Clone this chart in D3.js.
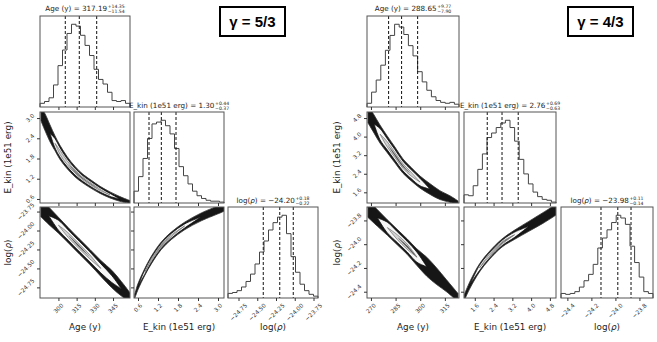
<!DOCTYPE html>
<html>
<head>
<meta charset="utf-8">
<script src="https://cdn.jsdelivr.net/npm/d3@7"></script>
<style>
body { margin:0; background:#fff; }
svg { display:block; font-family:"DejaVu Sans", sans-serif; }
.frame { fill:none; stroke:#555; stroke-width:1; }
.tick line { stroke:#333; }
.ticklabel { font-size:5.8px; fill:#333; }
.axlabel { font-size:8.8px; fill:#222; }
.title { font-size:7.2px; fill:#222; }
.sup { font-size:4.6px; fill:#222; }
.gamma { font-family:"Liberation Sans", Arial, sans-serif; font-weight:bold; font-size:15px; }
</style>
</head>
<body>
<div class="canvas"></div>
<script>
var pageWidth = 657, pageHeight = 342;
var labels = ["Age (y)", "E_kin (1e51 erg)", "log(ρ)"];

// ---------- gamma = 5/3 (left) ----------
var gammaA = "γ = 5/3";
var ageDomA = [284.8, 359], ekinDomA = [0.48, 3.18], rhoDomA = [-24.89, -23.69];
var ageTicksA = [300, 315, 330, 345];
var ekinTicksA = [0.6, 1.2, 1.8, 2.4, 3.0];
var rhoTicksA = [-24.75, -24.5, -24.25, -24.0, -23.75];
var ageStatsA = [317.19, 14.35, 11.54];   // median, +err, -err
var ekinStatsA = [1.30, 0.44, 0.37];
var rhoStatsA = [-24.20, 0.18, 0.22];
var ageHistA = [0.04,0.06,0.10,0.24,0.45,0.62,0.80,0.90,0.88,0.78,0.67,0.56,0.41,0.30,0.25,0.16,0.07,0.06,0.07,0.04];
var ekinHistA = [0.13,0.29,0.49,0.71,0.87,0.89,0.91,0.85,0.76,0.60,0.40,0.30,0.21,0.13,0.08,0.05,0.03,0.02,0.02,0.01];
var rhoHistA = [0.05,0.06,0.08,0.12,0.18,0.26,0.37,0.50,0.62,0.74,0.82,0.88,0.90,0.70,0.45,0.28,0.15,0.08,0.04,0.02];

// 2d panels: centre line of the sample cloud + half widths (band / contour levels)
var ageEkinA_x = [285.6, 288.9, 293.0, 297.2, 301.3, 307.1, 313.7, 320.3, 327.7, 334.3, 342.5, 350.7, 359.0];
var ageEkinA_y = [3.12, 2.88, 2.55, 2.25, 1.98, 1.68, 1.41, 1.20, 1.02, 0.87, 0.72, 0.60, 0.51];
var ageEkinA_band = [0.2, 0.25, 0.25, 0.22, 0.21, 0.18, 0.155, 0.13, 0.12, 0.105, 0.09, 0.07, 0.04];
var ageEkinA_c1 = [null, null, 0, 0.14, 0.14, 0.12, 0.1, 0.085, 0.078, 0.065, 0.045, 0, null];
var ageEkinA_c2 = [null, null, null, 0, 0.06, 0.055, 0.047, 0.04, 0.035, 0.02, 0, null, null];
var ageEkinA_c3 = [null, null, null, null, null, 0, 0.02, 0.018, 0.012, 0, null, null, null];

var ageRhoA_x = [285.5, 292, 300, 308, 317.2, 326, 335, 344, 352, 359];
var ageRhoA_y = [-23.70, -23.805, -23.93, -24.06, -24.21, -24.35, -24.50, -24.64, -24.77, -24.88];
var ageRhoA_band = [0.12, 0.115, 0.105, 0.1, 0.1, 0.1, 0.105, 0.115, 0.095, 0.06];
var ageRhoA_c1 = [null, 0, 0.065, 0.068, 0.068, 0.066, 0.06, 0.045, 0, null];
var ageRhoA_c2 = [null, null, 0, 0.03, 0.032, 0.026, 0, null, null, null];
var ageRhoA_c3 = [null, null, null, 0, 0.012, 0, null, null, null, null];

var ekinRhoA_x = [0.50, 0.6, 0.8, 1.0, 1.3, 1.6, 2.0, 2.5, 3.1, 3.2];
var ekinRhoA_y = [-24.87, -24.74, -24.55, -24.39, -24.20, -24.07, -23.94, -23.82, -23.71, -23.69];
var ekinRhoA_band = [0.026, 0.04, 0.045, 0.05, 0.05, 0.05, 0.05, 0.052, 0.052, 0.052];
var ekinRhoA_c1 = [null, 0, 0.03, 0.033, 0.033, 0.032, 0.027, 0, null, null];
var ekinRhoA_c2 = [null, null, 0, 0.014, 0.015, 0.011, 0, null, null, null];
var ekinRhoA_c3 = [null, null, null, 0, 0.005, 0, null, null, null, null];

// ---------- gamma = 4/3 (right) ----------
var gammaB = "γ = 4/3";
var ageDomB = [267.6, 323.6], ekinDomB = [1.14, 5.06], rhoDomB = [-24.453, -23.687];
var ageTicksB = [270, 285, 300, 315];
var ekinTicksB = [1.6, 2.4, 3.2, 4.0, 4.8];
var rhoTicksB = [-24.4, -24.2, -24.0, -23.8];
var ageStatsB = [288.65, 9.77, 7.90];
var ekinStatsB = [2.76, 0.69, 0.63];
var rhoStatsB = [-23.98, 0.11, 0.14];
var ageHistB = [0.04,0.16,0.29,0.45,0.61,0.77,0.89,0.86,0.78,0.66,0.55,0.38,0.27,0.18,0.11,0.07,0.05,0.04,0.05,0.03];
var ekinHistB = [0.09,0.08,0.19,0.37,0.54,0.72,0.77,0.83,0.88,0.91,0.83,0.68,0.48,0.32,0.21,0.12,0.07,0.04,0.03,0.01];
var rhoHistB = [0.05,0.04,0.05,0.07,0.12,0.19,0.26,0.37,0.55,0.66,0.75,0.83,0.91,0.88,0.81,0.57,0.39,0.23,0.07,0.05];

var ageEkinB_x = [268.2, 271.9, 275.5, 279.8, 284.6, 289.5, 294.4, 299.9, 306.0, 312.0, 318.1, 323.0];
var ageEkinB_y = [4.97, 4.54, 4.11, 3.68, 3.21, 2.73, 2.39, 2.04, 1.74, 1.48, 1.31, 1.14];
var ageEkinB_band = [0.38, 0.39, 0.39, 0.36, 0.34, 0.31, 0.29, 0.26, 0.23, 0.19, 0.14, 0.09];
var ageEkinB_c1 = [null, 0, 0.24, 0.24, 0.23, 0.21, 0.19, 0.16, 0, null, null, null];
var ageEkinB_c2 = [null, null, 0, 0.11, 0.11, 0.1, 0.08, 0, null, null, null, null];
var ageEkinB_c3 = [null, null, null, 0, 0.045, 0.04, 0, null, null, null, null, null];

var ageRhoB_x = [268.2, 274, 280, 286, 292, 298, 304, 310, 316, 323];
var ageRhoB_y = [-23.70, -23.78, -23.86, -23.94, -24.02, -24.11, -24.19, -24.27, -24.35, -24.45];
var ageRhoB_band = [0.075, 0.07, 0.065, 0.065, 0.065, 0.07, 0.08, 0.07, 0.05, 0.035];
var ageRhoB_c1 = [null, 0, 0.045, 0.045, 0.045, 0.042, 0, null, null, null];
var ageRhoB_c2 = [null, null, 0, 0.02, 0.022, 0, null, null, null, null];
var ageRhoB_c3 = [null, null, null, 0, 0.008, 0, null, null, null, null];

var ekinRhoB_x = [1.15, 1.4, 1.8, 2.2, 2.76, 3.3, 3.9, 4.5, 5.06];
var ekinRhoB_y = [-24.45, -24.34, -24.20, -24.10, -23.99, -23.92, -23.85, -23.78, -23.71];
var ekinRhoB_band = [0.024, 0.029, 0.034, 0.034, 0.034, 0.039, 0.042, 0.045, 0.045];
var ekinRhoB_c1 = [null, 0, 0.022, 0.023, 0.023, 0.022, 0, null, null];
var ekinRhoB_c2 = [null, null, 0, 0.01, 0.011, 0, null, null, null];
var ekinRhoB_c3 = [null, null, null, 0, 0.004, 0, null, null, null];

var figA = {
  gamma: gammaA, box: [220, 7, 65, 29], ylabX: 11,
  cols: [40, 134, 228], rows: [16, 112, 207], w: 90, h: 91,
  doms: [ageDomA, ekinDomA, rhoDomA],
  ticks: [ageTicksA, ekinTicksA, rhoTicksA],
  fmts: [d3.format("d"), d3.format(".1f"), d3.format(".2f")],
  hists: [ageHistA, ekinHistA, rhoHistA],
  stats: [ageStatsA, ekinStatsA, rhoStatsA],
  pairs: [
    {r:1, c:0, x:ageEkinA_x, y:ageEkinA_y, levels:[ageEkinA_band, ageEkinA_c1, ageEkinA_c2, ageEkinA_c3]},
    {r:2, c:0, x:ageRhoA_x, y:ageRhoA_y, levels:[ageRhoA_band, ageRhoA_c1, ageRhoA_c2, ageRhoA_c3]},
    {r:2, c:1, x:ekinRhoA_x, y:ekinRhoA_y, levels:[ekinRhoA_band, ekinRhoA_c1, ekinRhoA_c2, ekinRhoA_c3]}
  ]
};
var figB = {
  gamma: gammaB, box: [568, 7, 65, 29], ylabX: 340,
  cols: [367, 464, 561], rows: [16, 112, 207], w: 92, h: 91,
  doms: [ageDomB, ekinDomB, rhoDomB],
  ticks: [ageTicksB, ekinTicksB, rhoTicksB],
  fmts: [d3.format("d"), d3.format(".1f"), d3.format(".1f")],
  hists: [ageHistB, ekinHistB, rhoHistB],
  stats: [ageStatsB, ekinStatsB, rhoStatsB],
  pairs: [
    {r:1, c:0, x:ageEkinB_x, y:ageEkinB_y, levels:[ageEkinB_band, ageEkinB_c1, ageEkinB_c2, ageEkinB_c3]},
    {r:2, c:0, x:ageRhoB_x, y:ageRhoB_y, levels:[ageRhoB_band, ageRhoB_c1, ageRhoB_c2, ageRhoB_c3]},
    {r:2, c:1, x:ekinRhoB_x, y:ekinRhoB_y, levels:[ekinRhoB_band, ekinRhoB_c1, ekinRhoB_c2, ekinRhoB_c3]}
  ]
};

var levelFill = ['#161616', '#f7f7f7', '#d2d2d2', '#555'];
var levelStroke = ['#333', '#111', '#444', 'none'];
var levelWidth = [0.8, 0.8, 0.5, 0];

var svg = d3.select('.canvas').append('svg')
    .attr('width', pageWidth)
    .attr('height', pageHeight);
svg.append('rect').attr('width', pageWidth).attr('height', pageHeight).attr('fill', '#fff');

var clipId = 0;

// text with an italic rho
function addName(t, name){
  var parts = name.split('ρ');
  parts.forEach(function(p, k){
    if(k > 0) t.append('tspan').style('font-style', 'italic').text('ρ');
    if(p) t.append('tspan').text(p);
  });
}

function rotLabel(g, x, y, str, side){
  var t = g.append('text').attr('class', 'ticklabel')
      .attr('text-anchor', 'middle').attr('dominant-baseline', 'central')
      .text(str);
  var b = (t.node().getComputedTextLength() + 5.8) * 0.7071;
  if(side == 'bottom') t.attr('transform', 'translate(' + x + ',' + (y + 4.5 + b/2) + ') rotate(-45)');
  else t.attr('transform', 'translate(' + (x - 4.5 - b/2) + ',' + y + ') rotate(-45)');
}

function bottomTicks(g, f, i, withLabels){
  var x = d3.scaleLinear().domain(f.doms[i]).range([0, f.w]);
  var ax = g.append('g').attr('transform', 'translate(0,' + f.h + ')')
      .call(d3.axisBottom(x).tickValues(f.ticks[i]).tickSize(3).tickFormat(''));
  ax.select('.domain').remove();
  if(withLabels) f.ticks[i].forEach(function(v){ rotLabel(g, x(v), f.h, f.fmts[i](v), 'bottom'); });
}

function leftTicks(g, f, i, withLabels){
  var y = d3.scaleLinear().domain(f.doms[i]).range([f.h, 0]);
  var ax = g.append('g')
      .call(d3.axisLeft(y).tickValues(f.ticks[i]).tickSize(3).tickFormat(''));
  ax.select('.domain').remove();
  if(withLabels) f.ticks[i].forEach(function(v){ rotLabel(g, 0, y(v), f.fmts[i](v), 'left'); });
}

function drawTitle(g, cx, base, name, s){
  var fmt = d3.format('.2f');
  var t = g.append('text').attr('class', 'title').attr('y', base);
  addName(t, name);
  t.append('tspan').text(' = ' + fmt(s[0]));
  var sup = g.append('text').attr('class', 'sup').attr('y', base - 3.2).text('+' + fmt(s[1]));
  var sub = g.append('text').attr('class', 'sup').attr('y', base + 1.6).text('−' + fmt(s[2]));
  var wm = t.node().getComputedTextLength();
  var ws = Math.max(sup.node().getComputedTextLength(), sub.node().getComputedTextLength());
  var x0 = cx - (wm + ws + 0.6) / 2;
  t.attr('x', x0);
  sup.attr('x', x0 + wm + 0.6);
  sub.attr('x', x0 + wm + 0.6);
}

function drawHist(f, i){
  var g = svg.append('g').attr('transform', 'translate(' + f.cols[i] + ',' + f.rows[i] + ')');
  var dom = f.doms[i], vals = f.hists[i];
  var x = d3.scaleLinear().domain(dom).range([0, f.w]);
  var y = d3.scaleLinear().domain([0, d3.max(vals) * 1.1]).range([f.h, 0]);
  var step = (dom[1] - dom[0]) / vals.length;
  var pts = [[dom[0], 0]];
  vals.forEach(function(v, k){
    pts.push([dom[0] + k * step, v]);
    pts.push([dom[0] + (k + 1) * step, v]);
  });
  pts.push([dom[1], 0]);
  g.append('path')
      .attr('d', d3.line().x(function(d){ return x(d[0]); }).y(function(d){ return y(d[1]); })(pts))
      .attr('fill', 'none').attr('stroke', '#444').attr('stroke-width', 1);
  var s = f.stats[i];
  [s[0] - s[2], s[0], s[0] + s[1]].forEach(function(q){
    g.append('line')
        .attr('x1', x(q)).attr('x2', x(q)).attr('y1', 0).attr('y2', f.h)
        .attr('stroke', '#111').attr('stroke-width', 1).attr('stroke-dasharray', '3,2');
  });
  g.append('rect').attr('class', 'frame').attr('width', f.w).attr('height', f.h);
  bottomTicks(g, f, i, i == 2);
  drawTitle(g, f.w / 2, i == 0 ? -5 : -4, labels[i], s);
}

function drawPair(f, p){
  var g = svg.append('g').attr('transform', 'translate(' + f.cols[p.c] + ',' + f.rows[p.r] + ')');
  var x = d3.scaleLinear().domain(f.doms[p.c]).range([0, f.w]);
  var y = d3.scaleLinear().domain(f.doms[p.r]).range([f.h, 0]);
  var id = 'clip' + (clipId++);
  g.append('clipPath').attr('id', id).append('rect').attr('width', f.w).attr('height', f.h);
  var inner = g.append('g').attr('clip-path', 'url(#' + id + ')');
  p.levels.forEach(function(hw, k){
    var rows = p.x.map(function(v, j){ return {x: v, y: p.y[j], h: hw[j]}; });
    var area = d3.area()
        .defined(function(d){ return d.h != null; })
        .x(function(d){ return x(d.x); })
        .y0(function(d){ return y(d.y - d.h); })
        .y1(function(d){ return y(d.y + d.h); })
        .curve(d3.curveCatmullRom);
    inner.append('path')
        .attr('d', area(rows))
        .attr('fill', levelFill[k])
        .attr('stroke', levelStroke[k])
        .attr('stroke-width', levelWidth[k]);
  });
  g.append('rect').attr('class', 'frame').attr('width', f.w).attr('height', f.h);
  bottomTicks(g, f, p.c, p.r == 2);
  leftTicks(g, f, p.r, p.c == 0);
}

function drawCorner(f){
  [0, 1, 2].forEach(function(i){ drawHist(f, i); });
  f.pairs.forEach(function(p){ drawPair(f, p); });

  // axis labels
  [1, 2].forEach(function(r){
    var t = svg.append('text').attr('class', 'axlabel').attr('text-anchor', 'middle')
        .attr('transform', 'translate(' + f.ylabX + ',' + (f.rows[r] + f.h / 2) + ') rotate(-90)');
    addName(t, labels[r]);
  });
  [0, 1, 2].forEach(function(c){
    var t = svg.append('text').attr('class', 'axlabel').attr('text-anchor', 'middle')
        .attr('x', f.cols[c] + f.w / 2).attr('y', 330);
    addName(t, labels[c]);
  });

  // gamma box
  var b = f.box;
  svg.append('rect').attr('x', b[0]).attr('y', b[1]).attr('width', b[2]).attr('height', b[3])
      .attr('fill', '#fff').attr('stroke', '#000').attr('stroke-width', 2);
  svg.append('text').attr('class', 'gamma').attr('text-anchor', 'middle')
      .attr('x', b[0] + b[2] / 2).attr('y', b[1] + b[3] / 2 + 5.5).text(f.gamma);
}

drawCorner(figA);
drawCorner(figB);
</script>
</body>
</html>
